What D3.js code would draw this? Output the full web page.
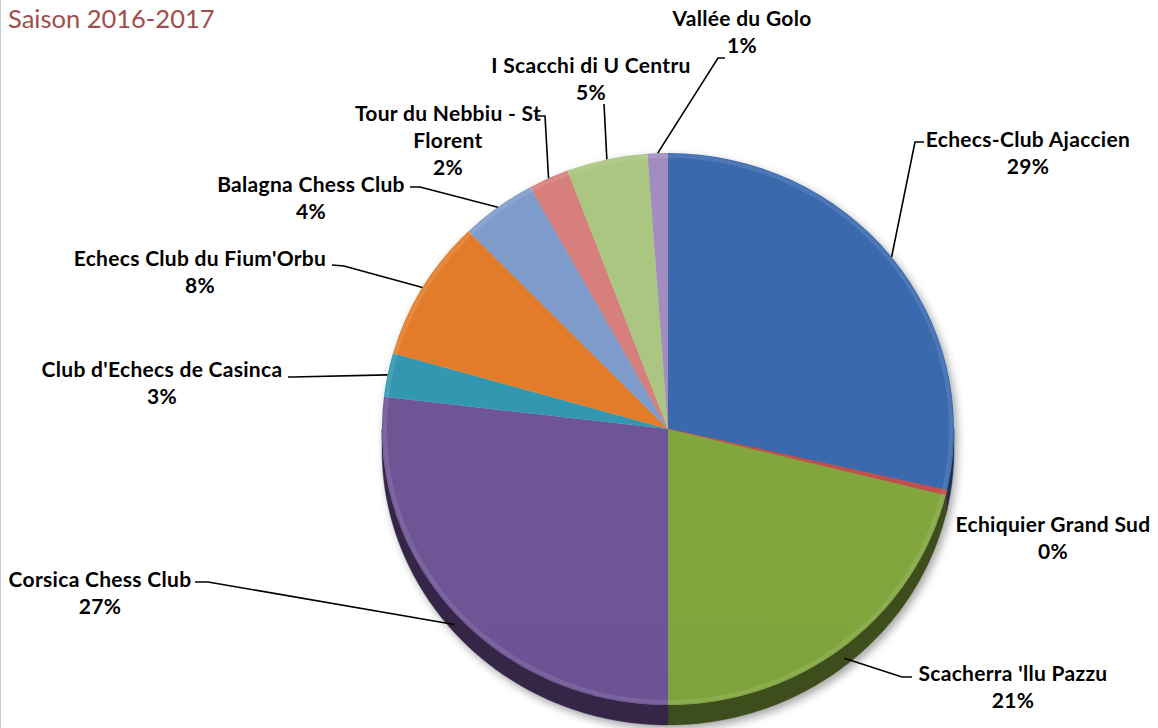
<!DOCTYPE html>
<html lang="fr">
<head>
<meta charset="UTF-8">
<title>Licenciés par club - Saison 2016-2017</title>
<style>
  body { margin: 0; background: #fff; }
  svg { display: block; font-family: Lato, "Open Sans", sans-serif; }
  .lbl { font-weight: 700; font-size: 21px; letter-spacing: 0.3px; fill: #000; text-anchor: middle; }
  .leader { fill: none; stroke: #000; stroke-width: 1.6px; }
  .title { font-size: 25.5px; fill: #A04D4B; }
</style>
</head>
<body>
<svg id="chart" width="1158" height="728"></svg>
<script src="https://d3js.org/d3.v7.min.js"></script>
<script>
// ---- data ----
const clubs = ["Echecs-Club Ajaccien", "Echiquier Grand Sud", "Scacherra 'llu Pazzu",
               "Corsica Chess Club", "Club d'Echecs de Casinca", "Echecs Club du Fium'Orbu",
               "Balagna Chess Club", "Tour du Nebbiu - St Florent", "I Scacchi di U Centru",
               "Vallée du Golo"];
const licencies = [100, 1, 74, 94, 9, 29, 15, 8, 16, 4];
const subtitle = "Saison 2016-2017";

// ---- styling / layout ----
const colors = ["#3A69AE", "#C0504D", "#80A63E", "#6F5496", "#3398B2", "#E27C2A",
                "#7D9CCB", "#D67F7C", "#AAC680", "#A28DC0"];

// label centre x, first baseline y, words on first line, leader anchor & elbow
const labelLayout = [
  { x: 1028, y: 147, anchor: [924, 142], elbow: [915, 142] },
  { x: 1053, y: 532 },
  { x: 1013, y: 681, anchor: [912, 677], elbow: [902, 677] },
  { x: 100,  y: 587, anchor: [195, 582], elbow: [208, 582] },
  { x: 162,  y: 377, anchor: [288, 377], elbow: [293, 377] },
  { x: 200,  y: 266, anchor: [332, 265], elbow: [344, 266] },
  { x: 311,  y: 192, anchor: [410, 187], elbow: [420, 187] },
  { x: 448,  y: 121, firstLine: 5, anchor: [538, 116], elbow: [545, 116] },
  { x: 591,  y: 73,  anchor: [604, 104], elbow: [604, 104] },
  { x: 742,  y: 26,  anchor: [725, 58],  elbow: [718, 58] }
];

const cx = 668, cy = 429, rx = 286, ry = 276, depth = 20, lineH = 27;

const svg = d3.select("#chart");
const defs = svg.append("defs");

// soft shadow
const f = defs.append("filter").attr("id", "shadow")
  .attr("x", "-10%").attr("y", "-10%").attr("width", "120%").attr("height", "125%");
f.append("feDropShadow").attr("dx", 3).attr("dy", 4).attr("stdDeviation", 4)
  .attr("flood-color", "#000").attr("flood-opacity", 0.35);

// left frame edge
svg.append("line").attr("x1", 0.5).attr("x2", 0.5).attr("y1", 0).attr("y2", 728)
  .attr("stroke", "#d0d0d0");

svg.append("text").attr("class", "title").attr("x", 8).attr("y", 28).text(subtitle);

const total = d3.sum(licencies);
const data = clubs.map((c, i) => ({ club: c, value: licencies[i], color: colors[i], lay: labelLayout[i] }));

const pie = d3.pie().sort(null).value(d => d.value).startAngle(0).endAngle(2 * Math.PI);
const arcs = pie(data);

// gradients
arcs.forEach((a, i) => {
  const base = d3.color(a.data.color);
  const g = defs.append("linearGradient").attr("id", "grad" + i)
    .attr("gradientUnits", "userSpaceOnUse")
    .attr("x1", 0).attr("x2", 0).attr("y1", cy - ry).attr("y2", cy + ry);
  g.append("stop").attr("offset", 0).attr("stop-color", base);
  g.append("stop").attr("offset", 0.5).attr("stop-color", base.darker(0.12));
  g.append("stop").attr("offset", 1).attr("stop-color", base.darker(0.45));
});

const px = a => cx + rx * Math.sin(a);
const py = a => cy - ry * Math.cos(a);

const pieG = svg.append("g").attr("filter", "url(#shadow)");

// side wall (front half only)
const sideLine = d3.line().x(p => p[0]).y(p => p[1]);
arcs.forEach((a, i) => {
  const s = Math.max(a.startAngle, Math.PI / 2), e = Math.min(a.endAngle, 3 * Math.PI / 2);
  if (e <= s) return;
  const angs = d3.range(s, e, 0.01).concat([e]);
  const pts = angs.map(t => [px(t), py(t)])
    .concat(angs.slice().reverse().map(t => [px(t), py(t) + depth]));
  pieG.append("path")
    .attr("d", sideLine(pts) + "Z")
    .attr("fill", d3.color(a.data.color).darker(2.1))
    .attr("stroke", d3.color(a.data.color).darker(2.1)).attr("stroke-width", 0.5);
});

// top face
const arc = d3.arc().innerRadius(0).outerRadius(rx);
const face = pieG.append("g")
  .attr("transform", `translate(${cx},${cy}) scale(1,${ry / rx})`);
face.selectAll("path.slice")
  .data(arcs)
  .enter().append("path")
  .attr("class", "slice")
  .attr("d", arc)
  .attr("fill", (d, i) => `url(#grad${i})`)
  .attr("stroke", (d, i) => d.data.value / total < 0.01 ? d.data.color : "none")
  .attr("stroke-width", 1.2);

// subtle bevel rim
pieG.append("ellipse").attr("cx", cx).attr("cy", cy).attr("rx", rx - 3).attr("ry", ry - 3)
  .attr("fill", "none").attr("stroke", "#fff").attr("stroke-opacity", 0.1).attr("stroke-width", 4);

// leaders
arcs.forEach(a => {
  const L = a.data.lay;
  if (!L.anchor) return;
  const m = (a.startAngle + a.endAngle) / 2;
  const end = [px(m), py(m) + (Math.cos(m) < 0 ? depth * 0.6 : 0)];
  svg.append("path").attr("class", "leader")
    .attr("d", d3.line()([L.anchor, L.elbow, end]));
});

// labels
const pct = d3.format(".0%");
arcs.forEach(a => {
  const L = a.data.lay;
  const words = a.data.club.split(" ");
  const lines = L.firstLine
    ? [words.slice(0, L.firstLine).join(" "), words.slice(L.firstLine).join(" ")]
    : [a.data.club];
  lines.push(pct(a.data.value / total));
  const t = svg.append("text").attr("class", "lbl");
  lines.forEach((s, k) => t.append("tspan").attr("x", L.x).attr("y", L.y + k * lineH).text(s));
});
</script>
</body>
</html>
